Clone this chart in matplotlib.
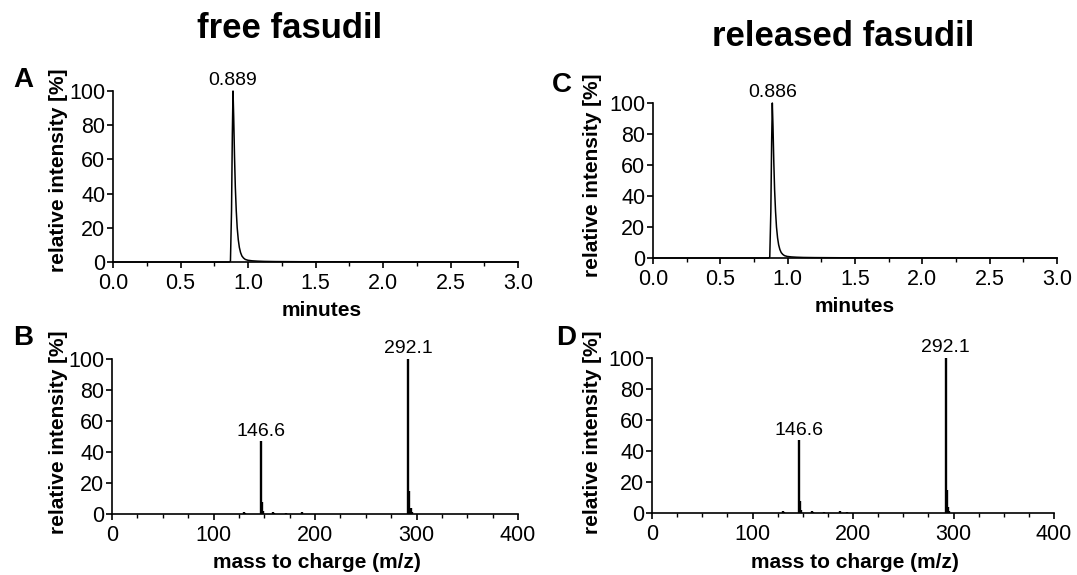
import matplotlib
matplotlib.use("Agg")
import matplotlib.pyplot as plt
from matplotlib.ticker import MultipleLocator

plt.rcParams['font.family'] = ['Liberation Sans', 'DejaVu Sans']

# ---------------- data ----------------
# chromatogram, free fasudil (A)
a_time = [0.0, 0.50, 0.860, 0.870, 0.878, 0.884, 0.889, 0.894, 0.900, 0.906, 0.913,
          0.920, 0.928, 0.936, 0.945, 0.955, 0.967, 0.980, 1.000, 1.030, 1.070,
          1.120, 1.200, 1.400, 1.800, 2.400, 3.000]
a_int = [0.0, 0.0, 0.0, 0.5, 30.0, 75.0, 100.0, 85.0, 62.0, 44.0, 30.0,
         20.0, 13.0, 8.5, 5.5, 3.5, 2.3, 1.5, 1.0, 0.7, 0.5,
         0.35, 0.25, 0.15, 0.08, 0.04, 0.0]
a_peak = 0.889

# chromatogram, released fasudil (C)
c_time = [0.0, 0.50, 0.857, 0.867, 0.875, 0.881, 0.886, 0.891, 0.897, 0.903, 0.910,
          0.917, 0.925, 0.933, 0.942, 0.952, 0.964, 0.977, 0.997, 1.027, 1.067,
          1.117, 1.200, 1.400, 1.800, 2.400, 3.000]
c_int = [0.0, 0.0, 0.0, 0.5, 30.0, 75.0, 100.0, 85.0, 62.0, 44.0, 30.0,
         20.0, 13.0, 8.5, 5.5, 3.5, 2.3, 1.5, 1.0, 0.7, 0.5,
         0.35, 0.25, 0.15, 0.08, 0.04, 0.0]
c_peak = 0.886

# mass spectrum, free fasudil (B)
b_mz = [70, 95, 118, 130, 131, 146.6, 147.6, 148.6, 159, 160, 171, 187, 205,
        230, 262, 292.1, 293.1, 294.1, 295.1, 330, 370]
b_int = [0.2, 0.2, 0.3, 1.5, 0.6, 47, 8, 2, 1.5, 0.8, 0.4, 1.2, 0.3,
         0.2, 0.3, 100, 15, 4, 1, 0.2, 0.1]
b_peaks = [146.6, 292.1]
b_peak_int = [47, 100]

# mass spectrum, released fasudil (D)
d_mz = [70, 95, 118, 130, 131, 146.6, 147.6, 148.6, 159, 160, 171, 187, 194,
        230, 262, 292.1, 293.1, 294.1, 295.1, 330, 370]
d_int = [0.2, 0.2, 0.3, 1.2, 0.5, 47, 8, 2, 1.3, 0.8, 0.4, 1.0, 0.5,
         0.2, 0.3, 100, 15, 4, 1, 0.2, 0.1]
d_peaks = [146.6, 292.1]
d_peak_int = [47, 100]

titles = ["free fasudil", "released fasudil"]
letters = ["A", "B", "C", "D"]

# ---------------- figure ----------------
W, H = 1077, 575
fig = plt.figure(figsize=(W / 100, H / 100), dpi=100)


def box(l, t, r, b):
    return [l / W, 1 - b / H, (r - l) / W, (b - t) / H]


axA = fig.add_axes(box(113, 91, 518, 262))
axB = fig.add_axes(box(112, 359, 518, 514))
axC = fig.add_axes(box(653, 103, 1057, 258))
axD = fig.add_axes(box(652, 358, 1054, 513))

TICK_FS = 15.5
LAB_FS = 15
PEAK_FS = 14


def style(ax):
    for s in ["top", "right"]:
        ax.spines[s].set_visible(False)
    for s in ["left", "bottom"]:
        ax.spines[s].set_linewidth(1.2)
    ax.tick_params(which="major", direction="out", length=4.5, width=1.2,
                   labelsize=TICK_FS)
    ax.tick_params(axis="y", which="major", pad=1.0)
    ax.tick_params(axis="x", which="major", pad=3.5)
    ax.tick_params(which="minor", direction="out", length=3, width=1.0)
    ax.set_ylim(0, 100)
    ax.yaxis.set_major_locator(MultipleLocator(20))


for ax, t, y, p in [(axA, a_time, a_int, a_peak), (axC, c_time, c_int, c_peak)]:
    style(ax)
    ax.plot(t, y, color="black", lw=1.1, clip_on=False)
    ax.set_xlim(0, 3.0)
    ax.xaxis.set_major_locator(MultipleLocator(0.5))
    ax.xaxis.set_minor_locator(MultipleLocator(0.25))
    ax.xaxis.set_major_formatter(matplotlib.ticker.FormatStrFormatter("%.1f"))
    ax.text(p, 101.0, f"{p:.3f}", ha="center", va="bottom", fontsize=PEAK_FS)

for ax, mz, it, pk, pki in [(axB, b_mz, b_int, b_peaks, b_peak_int),
                            (axD, d_mz, d_int, d_peaks, d_peak_int)]:
    style(ax)
    ax.vlines(mz, 0, it, color="black", lw=1.7, clip_on=False)
    ax.set_xlim(0, 400)
    ax.xaxis.set_major_locator(MultipleLocator(100))
    ax.xaxis.set_minor_locator(MultipleLocator(25))
    for m, v in zip(pk, pki):
        ax.text(m, v + 1.0, f"{m:.1f}", ha="center", va="bottom", fontsize=PEAK_FS)


def ylab(x, y):
    fig.text(x / W, 1 - y / H, "relative intensity [%]", rotation=90,
             ha="center", va="center", fontsize=LAB_FS, fontweight="bold")


def xlab(x, y, s):
    fig.text(x / W, 1 - y / H, s, ha="center", va="center",
             fontsize=LAB_FS, fontweight="bold")


ylab(59, 170)
ylab(59, 432)
ylab(593, 175)
ylab(593, 432)
xlab(322, 311, "minutes")
xlab(855, 307, "minutes")
xlab(317, 562, "mass to charge (m/z)")
xlab(855, 562, "mass to charge (m/z)")

# panel letters
for s, x, y in zip(letters, [23, 23, 562, 566], [80, 338, 85, 338]):
    fig.text(x / W, 1 - y / H, s, ha="center", va="center",
             fontsize=20, fontweight="bold")

# titles
fig.text(290 / W, 1 - 28 / H, titles[0], ha="center", va="center",
         fontsize=25, fontweight="bold")
fig.text(843 / W, 1 - 37 / H, titles[1], ha="center", va="center",
         fontsize=25, fontweight="bold")

fig.savefig("out.png", dpi=100)
